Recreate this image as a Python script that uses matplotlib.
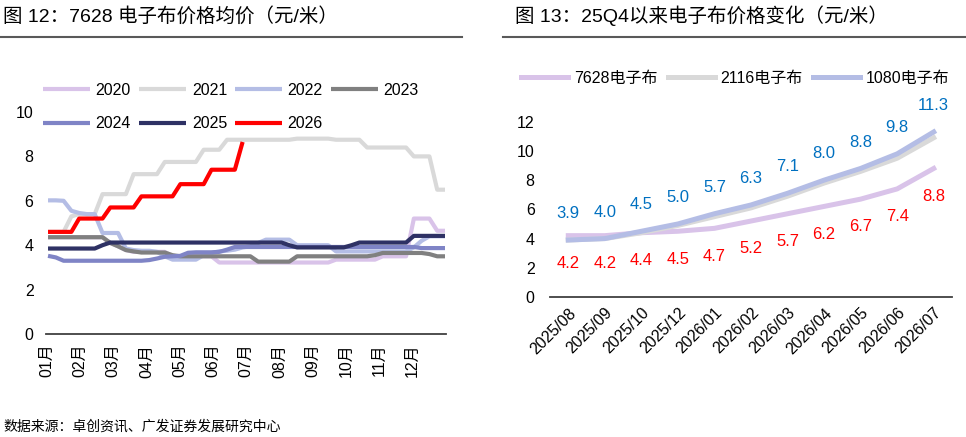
import matplotlib.pyplot as plt
import numpy as np
from matplotlib.lines import Line2D

plt.rcParams['font.family'] = ['Liberation Sans', 'Noto Sans CJK SC']
plt.rcParams['axes.unicode_minus'] = False

# left chart: weekly 7628 price by year (52 weeks)
months = ['01月', '02月', '03月', '04月', '05月', '06月', '07月', '08月', '09月', '10月', '11月', '12月']
y2020 = [4.36]*8 + [4.1, 3.95, 3.78] + [3.7]*5 + [3.5]*6 + [3.22]*15 + [3.35]*6 + [3.5]*4 + [5.2]*3 + [4.65]*2
y2021 = ([4.6]*3 + [5.3, 5.4, 5.4, 5.4] + [6.3]*4 + [7.2]*4 + [7.75]*5 + [8.3]*3 + [8.75]*9
         + [8.8]*5 + [8.75]*4 + [8.4]*6 + [8.0]*3 + [6.5]*2)
y2022 = ([6.02, 6.02, 6.0, 5.55, 5.45, 5.4, 5.4, 4.55, 4.55, 4.55, 3.85, 3.78, 3.75, 3.75, 3.7, 3.5,
          3.35, 3.35, 3.35, 3.35, 3.55, 3.65, 3.72, 3.75, 3.8, 3.9, 3.95, 4.1]
         + [4.25]*4 + [4.0]*5 + [3.72]*10 + [3.9, 4.2, 4.4, 4.4, 4.4])
y2023 = ([4.36]*8 + [4.1, 3.95, 3.78, 3.72] + [3.67]*4 + [3.55] + [3.5]*10 + [3.26]*5 + [3.5]*10
         + [3.55] + [3.65]*6 + [3.6] + [3.5]*2)
y2024 = ([3.52, 3.45, 3.3] + [3.3]*10 + [3.33, 3.4, 3.48, 3.5, 3.52] + [3.66, 3.68, 3.68, 3.68, 3.7]
         + [3.8] + [3.92]*24 + [3.87]*4)
y2025 = [3.85]*7 + [4.0] + [4.12]*23 + [4.0] + [3.9]*7 + [4.0] + [4.12]*7 + [4.42]*5
y2026 = [4.6]*4 + [5.2]*4 + [5.7]*4 + [6.2]*5 + [6.75]*4 + [7.4]*4 + [8.65]

# right chart: monthly prices since 25Q4
dates = ['2025/08', '2025/09', '2025/10', '2025/12', '2026/01', '2026/02',
         '2026/03', '2026/04', '2026/05', '2026/06', '2026/07']
p7628 = [4.2, 4.2, 4.4, 4.5, 4.7, 5.2, 5.7, 6.2, 6.7, 7.4, 8.8]
p2116 = [3.9, 4.0, 4.4, 4.9, 5.5, 6.1, 6.9, 7.8, 8.6, 9.5, 10.9]
p1080 = [3.9, 4.0, 4.5, 5.0, 5.7, 6.3, 7.1, 8.0, 8.8, 9.8, 11.3]

W, H = 966, 437
fig = plt.figure(figsize=(W/100, H/100), dpi=100)

def style(ax):
    for s in ['left', 'right', 'top']:
        ax.spines[s].set_visible(False)
    ax.spines['bottom'].set_color('#404040')
    ax.spines['bottom'].set_linewidth(1.3)
    ax.tick_params(length=0, labelsize=11.5, colors='black')

# ---- left chart
ax1 = fig.add_axes([46/W, 1-334/H, 400/W, 222/H])
series = [('2020', y2020, '#D9C3E9'), ('2021', y2021, '#D9D9D9'), ('2022', y2022, '#B4BDE5'),
          ('2023', y2023, '#808080'), ('2024', y2024, '#7F84C6'), ('2025', y2025, '#2E3164'),
          ('2026', y2026, '#FF0000')]
lines = {}
for name, vals, col in series:
    ln, = ax1.plot(np.arange(len(vals)), vals, color=col, lw=3, label=name, solid_capstyle='butt')
    lines[name] = ln
ax1.set_xlim(-0.26, 51.13)
ax1.set_ylim(0, 10)
ax1.set_yticks(np.arange(0, 11, 2))
ax1.set_xticks(np.arange(12)*4.27 - 0.17)
ax1.set_xticklabels(months, rotation=90, va='top', ha='center')
style(ax1)
ax1.tick_params(axis='x', pad=7)
ax1.tick_params(axis='y', pad=9)

order = ['2020', '2024', '2021', '2025', '2022', '2026', '2023']
fig.legend([lines[k] for k in order], order, ncol=4, loc='upper left',
           bbox_to_anchor=(43/W, 1-83/H), frameon=False, fontsize=11.5,
           handlelength=2.95, handletextpad=0.35, columnspacing=0.5, labelspacing=1.15,
           borderpad=0, borderaxespad=0)

# ---- right chart
ax2 = fig.add_axes([550/W, 1-297/H, 402/W, 175.3/H])
x = np.arange(len(dates))
l1, = ax2.plot(x, p7628, color='#D9C3E9', lw=3.6, label='7628电子布')
l2, = ax2.plot(x, p2116, color='#D9D9D9', lw=3.6, label='2116电子布')
l3, = ax2.plot(x, p1080, color='#B4BDE5', lw=3.6, label='1080电子布')
for i, v in enumerate(p1080):
    ax2.annotate(f'{v:.1f}', (i, v), xytext=(0, 19), textcoords='offset points',
                 ha='center', va='center', color='#0070C0', fontsize=12)
for i, v in enumerate(p7628):
    ax2.annotate(f'{v:.1f}', (i, v), xytext=(0, -20), textcoords='offset points',
                 ha='center', va='center', color='#FF0000', fontsize=12)
ax2.set_xlim(-0.5, len(dates) - 0.5)
ax2.set_ylim(0, 12)
ax2.set_yticks(np.arange(0, 13, 2))
ax2.set_xticks(x)
ax2.set_xticklabels(dates, rotation=45, ha='right', va='top', rotation_mode='anchor')
style(ax2)
ax2.tick_params(axis='y', pad=11)
ax2.tick_params(axis='x', pad=6)
fig.legend([l1, l2, l3], ['7628电子布', '2116电子布', '1080电子布'], ncol=3, loc='upper left',
           bbox_to_anchor=(521/W, 1-71/H), frameon=False, fontsize=11.5,
           handlelength=2.95, handletextpad=0.35, columnspacing=0.65,
           borderpad=0, borderaxespad=0)

# ---- titles, rules, source
fig.text(3/W, 1-16/H, '图 12：7628 电子布价格均价（元/米）', fontsize=14, va='center', ha='left')
fig.text(515/W, 1-16/H, '图 13：25Q4以来电子布价格变化（元/米）', fontsize=14, va='center', ha='left')
fig.add_artist(Line2D([0, 462/W], [1-37/H]*2, color='#595959', lw=1.5))
fig.add_artist(Line2D([503/W, 1], [1-37/H]*2, color='#595959', lw=1.5))
fig.text(3/W, 1-427/H, '数据来源：卓创资讯、广发证券发展研究中心', fontsize=10, va='center', ha='left')

fig.savefig('out.png', dpi=100)
